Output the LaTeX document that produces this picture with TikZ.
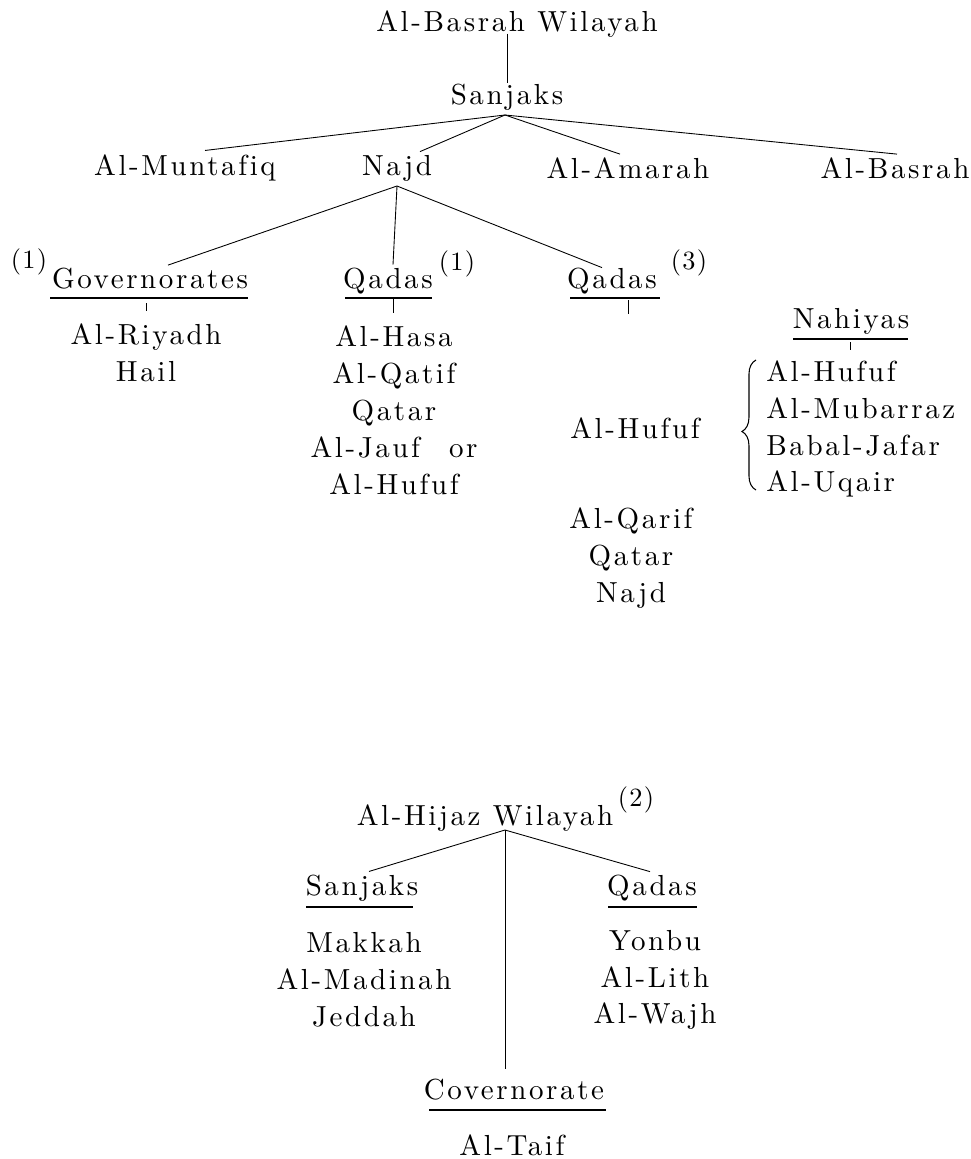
\documentclass[tikz,border=0pt]{standalone}
\usepackage{fontspec}
\usepackage{tikz}
\usetikzlibrary{calc}
\usetikzlibrary{decorations.pathreplacing}
\newfontfamily\spacedfont{lmroman10-regular.otf}[LetterSpace=9, Ligatures=NoCommon]
\newfontfamily\notefont{lmroman10-regular.otf}[LetterSpace=5]
\tikzset{%Global config
	x=0.02cm, y=-0.02cm,
	color = black ,
	%Styles
	Txt/.style={
		inner sep=0pt,
		font=\spacedfont\fontsize{16.5}{21}\selectfont,
		align=center,
	},
	Note/.style={
		inner sep=0pt,
		font=\notefont\fontsize{15}{17}\selectfont,
	},
	Br/.style={
		line width=0.5pt,
	},
	Ul/.style={
		line width=0.9pt,
	},
	Brace/.style={
		decorate,
		decoration={brace, amplitude=8pt, aspect=0.45},
		line width=0.6pt,
	}
}

\begin{document}
\begin{tikzpicture}
		\useasboundingbox (0,0) rectangle (970,1159);
		% Al-Basrah tree
		\node[Txt] (bas) at (517,24) {Al-Basrah Wilayah};
		\node[Txt] (san) at (507,97) {Sanjaks};
		\node[Txt] (munt) at (185,168) {Al-Muntafiq};
		\node[Txt] (najd) at (397,168) {Najd};
		\node[Txt] (amar) at (628,168) {Al-Amarah};
		\node[Txt] (basr) at (895,168) {Al-Basrah};
		\coordinate (sroot) at (505,115);
		\coordinate (nroot) at (397,186);
		
		\draw[Br] ($(san.north |- bas.south)+(0,-4)$) -- (san.north);
		\draw[Br] (sroot) -- ($(munt.north)+(20,-4)$);
		\draw[Br] (sroot) -- ($(najd.north)+(23,-3)$);
		\draw[Br] (sroot) -- ($(amar.north)+(-8,-3)$);
		\draw[Br] (sroot) -- ($(basr.north)+(2,-3)$);
		
		\node[Txt] (gov) at (150,279) {Governorates};
		\node[Txt] (qad1) at (388,281) {Qadas};
		\node[Txt] (qad3) at (612,281) {Qadas};
		\node[Note] (n1a) at (29,262) {(1)};
		\node[Note] (n1b) at (457,264) {(1)};
		\node[Note] (n3) at (689,263) {(3)};
		
		\draw[Br] (nroot) -- ($(gov.north)+(18,-3)$);
		\draw[Br] (nroot) -- ($(qad1.north)+(5,-3)$);
		\draw[Br] (nroot) -- ($(qad3.north)+(-10,0)$);
		
		% underlines and ticks
		\draw[Ul] (50,298) coordinate (govL) -- (248,298) coordinate (govR);
		\draw[Ul] (345,298) coordinate (qa1L) -- (432,298) coordinate (qa1R);
		\draw[Ul] (570,298) coordinate (qa3L) -- (660,298) coordinate (qa3R);
		\draw[Br] (146,303) -- (146,311);
		\draw[Br] (393,299) -- (393,313);
		\draw[Br] (628,300) -- (628,314);
		
		\node[Txt] (govlist) at (146,353) {Al-Riyadh\\Hail};
		\node[Txt] (qa1list) at (394,410) {Al-Hasa\\Al-Qatif\\Qatar\\Al-Jauf\quad or\\Al-Hufuf};
		\node[Txt] (huf) at (635,428) {Al-Hufuf};
		\node[Txt] (qa3list) at (631,558) {Al-Qarif\\Qatar\\Najd};
		
		% Nahiyas
		\node[Txt] (nah) at (851,321) {Nahiyas};
		\draw[Ul] (793,339) coordinate (nahL) -- (908,339) coordinate (nahR);
		\draw[Br] (850,342) -- (850,350);
		\node[Txt, align=left, anchor=west] (nahlist) at (766,429) {Al-Hufuf\\Al-Mubarraz\\Babal-Jafar\\Al-Uqair};
		\draw[Brace] (756,490) -- (756,360);
		
		% Al-Hijaz tree
		\node[Txt] (hij) at (485,818) {Al-Hijaz Wilayah};
		\node[Note] (n2) at (636,800) {(2)};
		\coordinate (hroot) at (505,830);
		\node[Txt] (hsan) at (362,888) {Sanjaks};
		\node[Txt] (hqad) at (652,888) {Qadas};
		\node[Txt] (hgov) at (514,1090) {Covernorate};
		
		\draw[Br] (hroot) -- ($(hsan.north)+(7,-3)$);
		\draw[Br] (hroot) -- ($(hqad.north)+(-2,-3)$);
		\draw[Br] (hroot) -- ($(hroot |- hgov.north)+(0,-10)$);
		
		\draw[Ul] (306,907) coordinate (hsL) -- (413,907) coordinate (hsR);
		\draw[Ul] (608,907) coordinate (hqL) -- (697,907) coordinate (hqR);
		\draw[Ul] (429,1110) coordinate (hgL) -- (606,1110) coordinate (hgR);
		
		\node[Txt] (hsanlist) at (364,980) {Makkah\\Al-Madinah\\Jeddah};
		\node[Txt] (hqadlist) at (655,980) {Yonbu\\Al-Lith\\Al-Wajh};
		\node[Txt] (taif) at (512,1145) {Al-Taif};
	\end{tikzpicture}
\end{document}
